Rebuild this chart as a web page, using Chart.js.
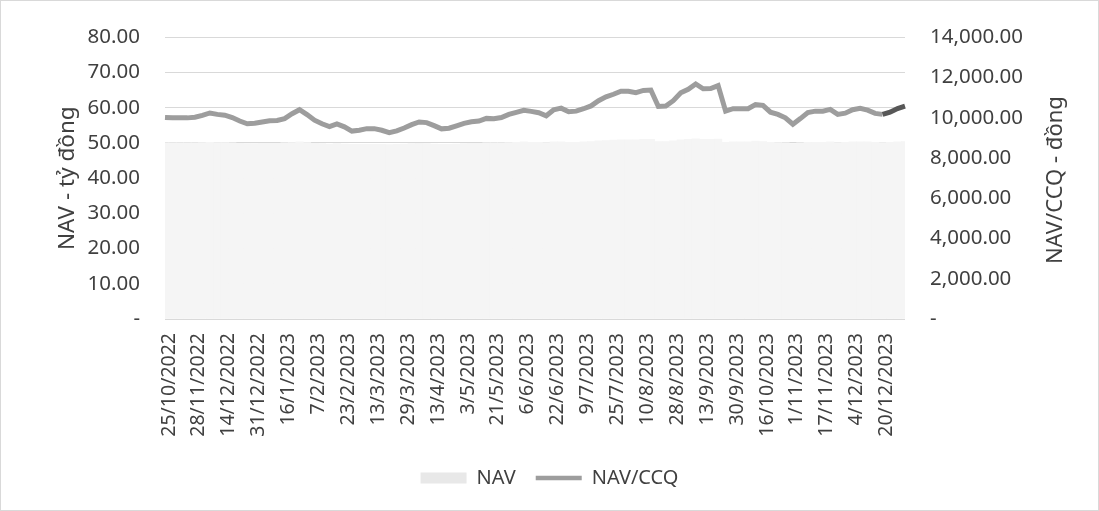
<!DOCTYPE html>
<html>
<head>
<meta charset="utf-8">
<script src="https://cdn.jsdelivr.net/npm/chart.js@4.4.1/dist/chart.umd.min.js"></script>
<style>
  html, body { margin: 0; padding: 0; background: #ffffff; }
  #wrap { width: 1099px; height: 511px; position: relative; }
</style>
</head>
<body>
<div id="wrap"><canvas id="c" width="1099" height="511"></canvas></div>
<script>
// Tick labels shown on the x axis (one every 4 data points)
const tickLabels = [
  '25/10/2022','28/11/2022','14/12/2022','31/12/2022','16/1/2023','7/2/2023',
  '23/2/2023','13/3/2023','29/3/2023','13/4/2023','3/5/2023','21/5/2023',
  '6/6/2023','22/6/2023','9/7/2023','25/7/2023','10/8/2023','28/8/2023',
  '13/9/2023','30/9/2023','16/10/2023','1/11/2023','17/11/2023','4/12/2023',
  '20/12/2023'
];
const pointsPerTick = 4;

// NAV/CCQ (dong), one value per data point
const navPerUnit = [
  10020, 10000, 9996, 9996, 10030, 10120, 10240, 10170, 10130, 10010,
  9840, 9700, 9730, 9790, 9850, 9870, 9960, 10200, 10400, 10160,
  9880, 9700, 9560, 9700, 9550, 9340, 9380, 9460, 9460, 9380,
  9260, 9350, 9490, 9660, 9790, 9760, 9610, 9450, 9480, 9600,
  9720, 9800, 9840, 9970, 9950, 10010, 10170, 10270, 10370, 10320,
  10250, 10100, 10400, 10480, 10300, 10330, 10450, 10590, 10850, 11040,
  11170, 11320, 11320, 11250, 11360, 11380, 10560, 10580, 10850, 11240,
  11420, 11680, 11440, 11450, 11600, 10330, 10450, 10450, 10450, 10660,
  10620, 10280, 10170, 10000, 9680, 9960, 10260, 10330, 10330, 10420,
  10170, 10230, 10400, 10470, 10380, 10220, 10170, 10280, 10460, 10580
];

// NAV (ty dong) (very faint bars, tops near 50)
const navValues = [
  50.0, 50.0, 50.0, 50.0, 50.0, 50.1, 50.2, 50.1, 50.1, 50.0,
  49.9, 49.8, 49.8, 49.9, 49.9, 49.9, 50.0, 50.1, 50.3, 50.1,
  49.9, 49.8, 49.7, 49.8, 49.7, 49.6, 49.6, 49.6, 49.6, 49.6,
  49.5, 49.6, 49.7, 49.8, 49.9, 49.8, 49.7, 49.6, 49.6, 49.7,
  49.8, 49.9, 49.9, 50.0, 50.0, 50.0, 50.1, 50.2, 50.3, 50.2,
  50.2, 50.1, 50.3, 50.3, 50.2, 50.2, 50.3, 50.4, 50.6, 50.7,
  50.8, 50.9, 50.9, 50.9, 51.0, 51.0, 50.4, 50.4, 50.6, 50.9,
  51.0, 51.2, 51.0, 51.0, 51.1, 50.2, 50.3, 50.3, 50.3, 50.5,
  50.4, 50.2, 50.1, 50.0, 49.8, 50.0, 50.2, 50.2, 50.2, 50.3,
  50.1, 50.2, 50.3, 50.3, 50.3, 50.2, 50.1, 50.2, 50.3, 50.4
];

// Build category list: each tick label followed by blank slots
const categories = [];
tickLabels.forEach((lab, i) => {
  categories.push(lab);
  if (i < tickLabels.length - 1) {
    for (let k = 1; k < pointsPerTick; k++) categories.push('');
  }
});
while (categories.length < navPerUnit.length) categories.push('');

const textColor = '#404040';
const fontFamily = "'Noto Sans', 'Open Sans', sans-serif";
const rightTitle = 'NAV/CCQ - đồng';

const extras = {
  id: 'extras',
  afterDraw(chart) {
    const ctx = chart.ctx;
    ctx.save();
    ctx.strokeStyle = '#d9d9d9';
    ctx.lineWidth = 1;
    ctx.strokeRect(0.5, 0.5, chart.width - 1, chart.height - 1);
    // right axis title, reading bottom to top
    const ca = chart.chartArea;
    ctx.translate(1056, (ca.top + ca.bottom) / 2 + 2);
    ctx.rotate(-Math.PI / 2);
    ctx.fillStyle = textColor;
    ctx.font = "22px 'Noto Sans', 'Open Sans', sans-serif";
    ctx.textAlign = 'center';
    ctx.textBaseline = 'middle';
    ctx.fillText(rightTitle, 0, 0);
    ctx.restore();
  }
};

new Chart(document.getElementById('c'), {
  type: 'bar',
  data: {
    labels: categories,
    datasets: [
      {
        type: 'bar',
        label: 'NAV',
        data: navValues,
        yAxisID: 'y',
        backgroundColor: '#f5f5f5',
        borderWidth: 0,
        barPercentage: 1,
        categoryPercentage: 1,
        order: 2
      },
      {
        type: 'line',
        label: 'NAV/CCQ',
        data: navPerUnit,
        yAxisID: 'y1',
        borderColor: '#9d9d9d',
        backgroundColor: '#9d9d9d',
        borderWidth: 5,
        pointRadius: 0,
        tension: 0,
        order: 1,
        segment: {
          borderColor: ctx => (ctx.p0DataIndex >= 96 ? '#575757' : undefined)
        }
      }
    ]
  },
  options: {
    responsive: false,
    animation: false,
    maintainAspectRatio: false,
    layout: { padding: { left: 0, right: 0, top: 36, bottom: 13 } },
    plugins: {
      tooltip: { enabled: false },
      legend: {
        position: 'bottom',
        labels: {
          color: textColor,
          font: { family: fontFamily, size: 20 },
          usePointStyle: true,
          pointStyleWidth: 46,
          boxHeight: 11,
          padding: 20,
          sort: (a, b) => a.datasetIndex - b.datasetIndex,
          generateLabels(chart) {
            const items = Chart.defaults.plugins.legend.labels.generateLabels(chart);
            items.forEach(it => {
              if (it.datasetIndex === 0) {
                it.pointStyle = 'rect';
                it.fillStyle = '#e8e8e8';
                it.strokeStyle = '#e8e8e8';
                it.lineWidth = 0;
              } else {
                it.pointStyle = 'line';
                it.strokeStyle = '#9d9d9d';
                it.lineWidth = 4.5;
              }
            });
            return items;
          }
        }
      }
    },
    scales: {
      x: {
        offset: false,
        grid: { display: false, drawTicks: false },
        border: { display: false },
        ticks: {
          autoSkip: false,
          maxRotation: 90,
          minRotation: 90,
          padding: 14,
          labelOffset: 4,
          color: textColor,
          font: { family: fontFamily, size: 19.5 }
        },
        afterFit(scale) { scale.height = 129; }
      },
      y: {
        position: 'left',
        min: 0,
        max: 80,
        ticks: {
          stepSize: 10,
          padding: 25,
          color: textColor,
          font: { family: fontFamily, size: 20.5 },
          callback: v => (v === 0 ? '-' : Number(v).toFixed(2))
        },
        grid: { color: '#d9d9d9', lineWidth: 1, drawTicks: false },
        border: { display: false },
        title: {
          display: true,
          text: 'NAV - tỷ đồng',
          color: textColor,
          font: { family: fontFamily, size: 22.5 },
          padding: { top: 54, bottom: 0 }
        },
        afterFit(scale) { scale.width = 165; }
      },
      y1: {
        position: 'right',
        min: 0,
        max: 14000,
        ticks: {
          stepSize: 2000,
          padding: 25,
          color: textColor,
          font: { family: fontFamily, size: 20.5 },
          callback: v => (v === 0 ? '-' : Number(v).toLocaleString('en-US', { minimumFractionDigits: 2, maximumFractionDigits: 2 }))
        },
        grid: { drawOnChartArea: false, drawTicks: false },
        border: { display: false },
        afterFit(scale) { scale.width = 194; }
      }
    }
  },
  plugins: [extras]
});
</script>
</body>
</html>
